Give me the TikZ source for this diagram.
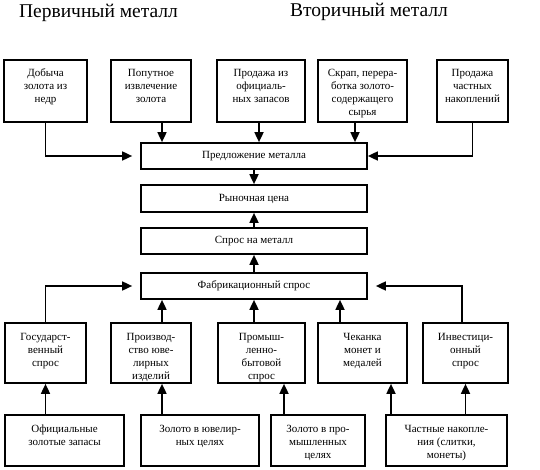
\documentclass[tikz,border=0pt]{standalone}
\usepackage{fontspec}
\setmainfont{Liberation Serif}
\usetikzlibrary{arrows.meta}

\tikzset{
    box/.style={draw, line width=1.7pt, inner sep=0pt, font=\fontsize{11}{13}\selectfont},
    arr/.style={line width=1.7pt, -{Triangle[length=10pt,width=9pt]}},
    title/.style={font=\fontsize{19.5}{22}\selectfont},
}
% Text oben im Kasten
\newcommand{\boxtxt}[3]{\parbox[c][#2][t]{#1}{\centering\rule{0pt}{17pt}#3}}

\begin{document}
\begin{tikzpicture}[x=1pt, y=-1pt]

    \useasboundingbox (0,0) rectangle (540,470);

    %Überschriften
    \node[title] (perv) at (98.5,13) {Первичный металл};
    \node[title] (vtor) at (369,12) {Вторичный металл};

    %Angebot
    \node[box] (t1) at (45.5,91)  {\boxtxt{83pt}{62pt}{Добыча\\золота из\\недр}};
    \node[box] (t2) at (151,91)   {\boxtxt{80pt}{62pt}{Попутное\\извлечение\\золота}};
    \node[box] (t3) at (261,91)   {\boxtxt{88pt}{62pt}{Продажа из\\официаль-\\ных запасов}};
    \node[box] (t4) at (362.5,91) {\boxtxt{89pt}{62pt}{Скрап, перера-\\ботка золото-\\содержащего\\сырья}};
    \node[box] (t5) at (472.5,91) {\boxtxt{71pt}{62pt}{Продажа\\частных\\накоплений}};

    %Mittlere Spalte
    \node[box, minimum width=226pt, minimum height=26pt] (pred)  at (254,156)   {Предложение металла};
    \node[box, minimum width=226pt, minimum height=27pt] (ryn)   at (254,198.5) {Рыночная цена};
    \node[box, minimum width=226pt, minimum height=26pt] (spros) at (254,241)   {Спрос на металл};
    \node[box, minimum width=226pt, minimum height=26pt] (fab)   at (254,286)   {Фабрикационный спрос};

    %Nachfrage
    \node[box] (m1) at (45.5,353)  {\boxtxt{81pt}{60pt}{Государст-\\венный\\спрос}};
    \node[box] (m2) at (151,353)   {\boxtxt{80pt}{60pt}{Производ-\\ство юве-\\лирных\\изделий}};
    \node[box] (m3) at (261.5,353) {\boxtxt{87pt}{60pt}{Промыш-\\ленно-\\бытовой\\спрос}};
    \node[box] (m4) at (362.5,353) {\boxtxt{89pt}{60pt}{Чеканка\\монет и\\медалей}};
    \node[box] (m5) at (465.5,353) {\boxtxt{85pt}{60pt}{Инвестици-\\онный\\спрос}};

    %Quellen
    \node[box] (b1) at (64.5,440.5) {\boxtxt{119pt}{51pt}{Официальные\\золотые запасы}};
    \node[box] (b2) at (200,440.5)  {\boxtxt{118pt}{51pt}{Золото в ювелир-\\ных целях}};
    \node[box] (b3) at (318,440.5)  {\boxtxt{94pt}{51pt}{Золото в про-\\мышленных\\целях}};
    \node[box] (b4) at (446.5,440.5){\boxtxt{121pt}{51pt}{Частные накопле-\\ния (слитки,\\монеты)}};

    %Pfeile oben
    \draw[arr, shorten >=8pt] (t1.south) |- (pred.west);
    \draw[arr] (t5.south) |- (pred.east);
    \draw[arr] ([xshift=11pt]t2.south) -- ([xshift=11pt]t2.south |- pred.north);
    \draw[arr] ([xshift=-2pt]t3.south) -- ([xshift=-2pt]t3.south |- pred.north);
    \draw[arr] ([xshift=-7.5pt]t4.south) -- ([xshift=-7.5pt]t4.south |- pred.north);

    %Pfeile Mitte
    \draw[arr] (pred.south) -- (ryn.north);
    \draw[arr] (spros.north) -- (ryn.south);
    \draw[arr] (fab.north) -- (spros.south);

    %Pfeile zur Fabrikation
    \draw[arr, shorten >=8pt] (m1.north) |- (fab.west);
    \draw[arr, shorten >=8pt] ([xshift=-3.5pt]m5.north) |- (fab.east);
    \draw[arr] ([xshift=11pt]m2.north) -- ([xshift=11pt]m2.north |- fab.south);
    \draw[arr] (fab.south |- m3.north) -- (fab.south);
    \draw[arr] ([xshift=-22.5pt]m4.north) -- ([xshift=-22.5pt]m4.north |- fab.south);

    %Pfeile unten
    \draw[arr] (m1.south |- b1.north) -- (m1.south);
    \draw[arr] ([xshift=11pt]m2.south |- b2.north) -- ([xshift=11pt]m2.south);
    \draw[arr] ([xshift=22.5pt]m3.south |- b3.north) -- ([xshift=22.5pt]m3.south);
    \draw[arr] ([xshift=28.5pt]m4.south |- b4.north) -- ([xshift=28.5pt]m4.south);
    \draw[arr] (m5.south |- b4.north) -- (m5.south);

\end{tikzpicture}
\end{document}
